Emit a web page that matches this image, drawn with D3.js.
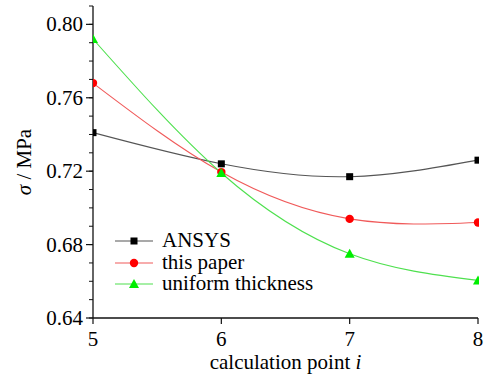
<!DOCTYPE html>
<html><head><meta charset="utf-8">
<script src="https://cdn.jsdelivr.net/npm/d3@7"></script>
</head>
<body style="margin:0;background:#fff">
<svg id="c" width="493" height="378" style="display:block"></svg>
<script>
const points = [5, 6, 7, 8];
const ansys = [0.741, 0.724, 0.717, 0.726];
const thisPaper = [0.768, 0.7195, 0.694, 0.692];
const uniform = [0.792, 0.719, 0.675, 0.6605];
const seriesNames = ["ANSYS", "this paper", "uniform thickness"];
const yMajorTicks = [0.64, 0.68, 0.72, 0.76, 0.80];
const xTicks = [5, 6, 7, 8];

const FONT = "'Liberation Serif', 'Times New Roman', Tinos, monospace";

const series = [
  {name: seriesNames[0], values: ansys, line: "#555", fill: "#000", shape: "square"},
  {name: seriesNames[1], values: thisPaper, line: "#f05a5a", fill: "#ff0000", shape: "circle"},
  {name: seriesNames[2], values: uniform, line: "#4ee04e", fill: "#00ee00", shape: "triangle"}
];

const svg = d3.select("#c");
const L = 93, R = 478, T = 6, B = 318;
const x = d3.scaleLinear().domain([5, 8]).range([L, R]);
const y = d3.scaleLinear().domain([0.64, 0.81]).range([B, T]);

svg.append("defs").append("clipPath").attr("id", "clip")
  .append("rect").attr("x", L).attr("y", 0).attr("width", R - L + 1).attr("height", B);

function txt(sel, size) {
  return sel.style("font-family", FONT).attr("font-size", size || 21);
}

// y axis
const yMinor = d3.range(64, 82).map(d => d / 100);
const yAxis = svg.append("g").attr("transform", `translate(${L},0)`);
yAxis.append("line").attr("x1", 0).attr("x2", 0).attr("y1", y(0.81)).attr("y2", B).attr("stroke", "#111").attr("stroke-width", 1.3);
yAxis.selectAll("line.minor").data(yMinor).join("line").attr("class", "minor")
  .attr("x1", -4).attr("x2", 0).attr("y1", d => y(d)).attr("y2", d => y(d)).attr("stroke", "#111").attr("stroke-width", 1);
yAxis.selectAll("line.major").data(yMajorTicks).join("line").attr("class", "major")
  .attr("x1", -7).attr("x2", 0).attr("y1", d => y(d)).attr("y2", d => y(d)).attr("stroke", "#111").attr("stroke-width", 1.2);
yMajorTicks.forEach(d => {
  txt(svg.append("text")).attr("x", L - 10).attr("y", y(d) + 7).attr("text-anchor", "end").text(d3.format(".2f")(d));
});

// x axis
const xAxis = svg.append("g").attr("transform", `translate(0,${B})`);
xAxis.append("line").attr("x1", L).attr("x2", R).attr("y1", 0).attr("y2", 0).attr("stroke", "#111").attr("stroke-width", 1.3);
xAxis.selectAll("line.t").data(xTicks).join("line").attr("class", "t")
  .attr("x1", d => x(d)).attr("x2", d => x(d)).attr("y1", 0).attr("y2", 6).attr("stroke", "#111").attr("stroke-width", 1.2);
xTicks.forEach(d => {
  txt(svg.append("text")).attr("x", x(d)).attr("y", B + 28).attr("text-anchor", "middle").text(d);
});

// axis titles
const xt = txt(svg.append("text")).attr("x", (L + R) / 2).attr("y", 369).attr("text-anchor", "middle");
xt.append("tspan").text("calculation point ");
xt.append("tspan").attr("font-style", "italic").text(" i");

const yt = txt(svg.append("text")).attr("transform", `translate(31,${(T + B) / 2}) rotate(-90)`).attr("text-anchor", "middle");
yt.append("tspan").attr("font-style", "italic").text("σ");
yt.append("tspan").text(" / MPa");

function marker(g, shape, fill, cx, cy) {
  if (shape === "square") {
    g.append("rect").attr("x", cx - 3.5).attr("y", cy - 3.5).attr("width", 7).attr("height", 7).attr("fill", fill);
  } else if (shape === "circle") {
    g.append("circle").attr("cx", cx).attr("cy", cy).attr("r", 4.2).attr("fill", fill);
  } else {
    g.append("path").attr("d", `M${cx},${cy - 5}L${cx + 5},${cy + 4}L${cx - 5},${cy + 4}Z`).attr("fill", fill);
  }
}

const plot = svg.append("g").attr("clip-path", "url(#clip)");
const line = d3.line().x((d, i) => x(points[i])).y(d => y(d)).curve(d3.curveNatural);
series.forEach(s => {
  plot.append("path").attr("d", line(s.values)).attr("fill", "none").attr("stroke", s.line).attr("stroke-width", 1.1);
});
series.forEach(s => {
  s.values.forEach((v, i) => marker(plot, s.shape, s.fill, x(points[i]), y(v)));
});

// legend
const legY = [241, 263, 284];
series.forEach((s, i) => {
  svg.append("line").attr("x1", 115).attr("x2", 153).attr("y1", legY[i]).attr("y2", legY[i]).attr("stroke", s.line).attr("stroke-width", 1.1);
  marker(svg, s.shape, s.fill, 134, legY[i]);
  txt(svg.append("text"), 21).attr("x", 162).attr("y", legY[i] + 6).text(s.name);
});
</script>
</body></html>
